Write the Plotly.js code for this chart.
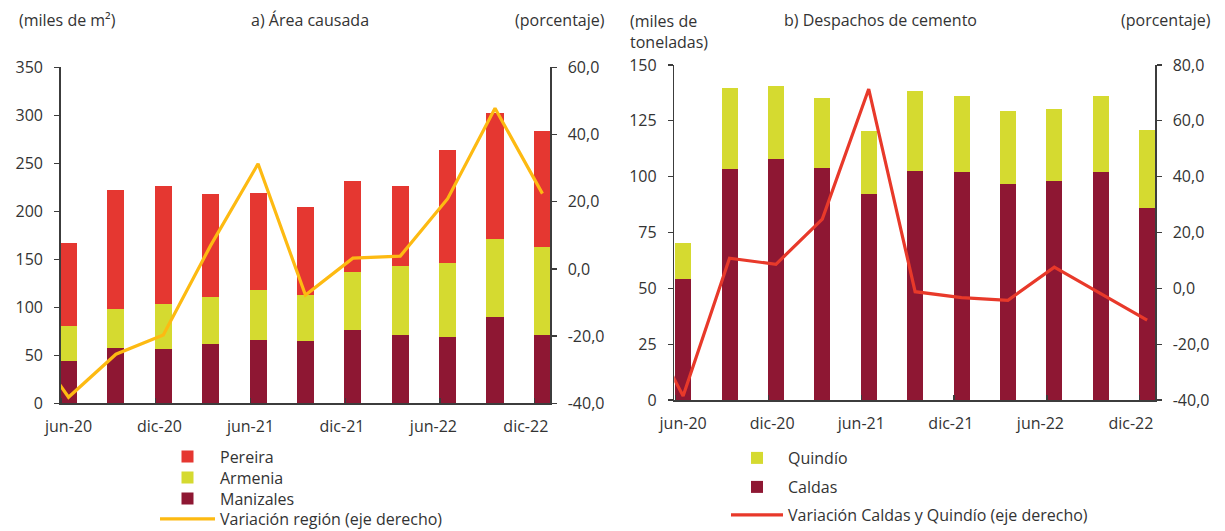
<!DOCTYPE html>
<html><head><meta charset="utf-8">
<script src="https://cdn.plot.ly/plotly-3.0.1.min.js"></script>
<style>html,body{margin:0;padding:0;background:#fff}#chart{width:1225px;height:531px}</style>
</head><body><div id="chart"></div>
<script>
// ---------- data ----------
const periods = ['jun-20','sep-20','dic-20','mar-21','jun-21','sep-21','dic-21','mar-22','jun-22','sep-22','dic-22'];
const linePeriods = ['mar-20','jun-20','sep-20','dic-20','mar-21','jun-21','sep-21','dic-21','mar-22','jun-22','sep-22','dic-22'];
const tickLabels = ['jun-20','dic-20','jun-21','dic-21','jun-22','dic-22'];
const rightTickVals1 = [-40, -20, 0, 20, 40, 60];
const rightTickText1 = ['-40,0','-20,0','0,0','20,0','40,0','60,0'];
const rightTickVals2 = [-40, -20, 0, 20, 40, 60, 80];
const rightTickText2 = ['-40,0','-20,0','0,0','20,0','40,0','60,0','80,0'];

// a) Área causada (miles de m²)
const pereira   = [86.8, 124.0, 122.9, 106.7, 101.4, 92.0, 94.4, 82.7, 118.1, 131.3, 120.5];
const armenia   = [36.1, 40.0, 46.9, 49.2, 52.1, 48.2, 60.4, 72.1, 77.0, 81.2, 91.9];
const manizales = [44.4, 57.9, 56.2, 61.8, 65.9, 64.6, 76.4, 71.2, 68.8, 89.9, 71.2];
const variacionRegion = [-18.0, -38.2, -25.4, -19.7, 7.0, 31.3, -7.8, 3.2, 3.8, 20.9, 47.8, 22.4];

// b) Despachos de cemento (miles de toneladas)
const quindio = [16.1, 36.6, 32.8, 31.5, 28.3, 35.7, 34.0, 32.7, 32.3, 34.0, 35.1];
const caldas  = [54.3, 103.3, 107.8, 103.7, 92.2, 102.5, 102.0, 96.9, 97.9, 102.0, 85.8];
const variacionCQ = [-6.8, -38.6, 10.8, 8.6, 24.8, 71.4, -1.2, -3.3, -4.3, 7.6, -1.9, -11.4];

// ---------- positions (index scale) ----------
const xBars = periods.map((p, i) => i);
const xLine = linePeriods.map((p, i) => i - 1);
const tickMarkPos = [-0.16, 1.84, 3.84, 5.84, 7.84, 9.84];
const labelPos = [0, 1.92, 3.84, 5.77, 7.7, 9.65];

// ---------- styles ----------
const C_PEREIRA = '#E53731', C_ARMENIA = '#D5DA30', C_MANIZALES = '#8E1733';
const C_LINE_A = '#FDBA12', C_LINE_B = '#E8392A';
const AX = '#3c3c3c';
const FONT = {family: '"Open Sans", sans-serif', size: 16, color: '#333'};

const traces = [
  {type:'bar', name:'Manizales', x:xBars, y:manizales, xaxis:'x', yaxis:'y', width:0.36,
   marker:{color:C_MANIZALES}, legend:'legend3', hoverinfo:'skip'},
  {type:'bar', name:'Armenia', x:xBars, y:armenia, xaxis:'x', yaxis:'y', width:0.36,
   marker:{color:C_ARMENIA}, legend:'legend2', hoverinfo:'skip'},
  {type:'bar', name:'Pereira', x:xBars, y:pereira, xaxis:'x', yaxis:'y', width:0.36,
   marker:{color:C_PEREIRA}, legend:'legend', hoverinfo:'skip'},
  {type:'scatter', mode:'lines', name:'Variación región (eje derecho)', x:xLine, y:variacionRegion,
   xaxis:'x', yaxis:'y2', line:{color:C_LINE_A, width:3.2}, legend:'legend4', hoverinfo:'skip'},

  {type:'bar', name:'Caldas', x:xBars, y:caldas, xaxis:'x2', yaxis:'y3', width:0.345,
   marker:{color:C_MANIZALES}, legend:'legend6', hoverinfo:'skip'},
  {type:'bar', name:'Quindío', x:xBars, y:quindio, xaxis:'x2', yaxis:'y3', width:0.345,
   marker:{color:C_ARMENIA}, legend:'legend5', hoverinfo:'skip'},
  {type:'scatter', mode:'lines', name:'Variación Caldas y Quindío (eje derecho)', x:xLine, y:variacionCQ,
   xaxis:'x2', yaxis:'y4', line:{color:C_LINE_B, width:3.2}, legend:'legend7', hoverinfo:'skip'}
];

const W = 1225, H = 531;
const px = v => v / W, py = v => 1 - v / H;

const xAxis = (dom, rng, anchor) => ({
  domain: dom, range: rng, anchor: anchor, tickmode:'array', tickvals: labelPos, ticktext: tickLabels,
  ticks:'', ticklabelstandoff: 8, tickfont: FONT,
  minor: {tickmode:'array', tickvals: tickMarkPos, ticks:'inside', ticklen:5, tickwidth:1.3, tickcolor:AX, showgrid:false},
  showline:true, linecolor:AX, linewidth:1.5, showgrid:false, zeroline:false, fixedrange:true
});
const yLeft = (dom, rng, dtick, anchor) => ({
  domain: dom, range: rng, dtick: dtick, tick0: 0, anchor: anchor, ticks:'outside', ticklen:5, tickwidth:1.3,
  tickcolor:AX, showline:true, linecolor:AX, linewidth:1.5, showgrid:false, zeroline:false,
  ticklabelstandoff: 8, fixedrange:true, tickfont: FONT
});
const yRight = (over, rng, vals, text, anchor) => ({
  overlaying: over, side:'right', range: rng, anchor: anchor, tickmode:'array', tickvals: vals, ticktext: text,
  ticks:'outside', ticklen:5, tickwidth:1.3, tickcolor:AX, showline:true, linecolor:AX, linewidth:1.5,
  showgrid:false, zeroline:false, ticklabelstandoff: 8, fixedrange:true, tickfont: FONT
});
const leg = (x, yc, iw) => ({x: px(x), xanchor:'left', y: py(yc), yanchor:'middle',
  bgcolor:'rgba(0,0,0,0)', font: FONT, itemwidth: iw});

const rangeA = [-0.165, 10.16], rangeB = [-0.19, 10.17];
const layout = {
  width: W, height: H, margin:{l:0, r:0, t:0, b:0, autoexpand:false},
  paper_bgcolor:'#fff', plot_bgcolor:'rgba(0,0,0,0)', font: FONT, separators: ',.',
  barmode:'stack', showlegend:true, hovermode:false,
  xaxis: xAxis([px(60.7), px(550)], rangeA, 'y'),
  yaxis: yLeft([py(403.3), py(67.3)], [0, 350], 50, 'x'),
  yaxis2: yRight('y', [-40, 60], rightTickVals1, rightTickText1, 'x'),
  xaxis2: xAxis([px(674.3), px(1155)], rangeB, 'y3'),
  yaxis3: yLeft([py(400), py(65)], [0, 150], 25, 'x2'),
  yaxis4: yRight('y3', [-40, 80], rightTickVals2, rightTickText2, 'x2'),
  legend:  leg(155, 456.5, 55),
  legend2: leg(155, 477.5, 55),
  legend3: leg(155, 498.5, 55),
  legend4: leg(155, 519, 55),
  legend5: leg(726, 458, 52),
  legend6: leg(726, 487, 52),
  legend7: leg(726, 515, 52),
  annotations: [
    {text:'(miles de m²)', xref:'paper', yref:'paper', x: px(17), y: py(20), xanchor:'left', yanchor:'middle', showarrow:false, font: FONT},
    {text:'a) Área causada', xref:'paper', yref:'paper', x: px(310), y: py(20), xanchor:'center', yanchor:'middle', showarrow:false, font: FONT},
    {text:'(porcentaje)', xref:'paper', yref:'paper', x: px(607), y: py(20), xanchor:'right', yanchor:'middle', showarrow:false, font: FONT},
    {text:'(miles de<br>toneladas)', xref:'paper', yref:'paper', x: px(628), y: py(8), xanchor:'left', yanchor:'top', align:'left', showarrow:false, font: FONT},
    {text:'b) Despachos de cemento', xref:'paper', yref:'paper', x: px(880), y: py(20), xanchor:'center', yanchor:'middle', showarrow:false, font: FONT},
    {text:'(porcentaje)', xref:'paper', yref:'paper', x: px(1213), y: py(20), xanchor:'right', yanchor:'middle', showarrow:false, font: FONT}
  ]
};

Plotly.newPlot('chart', traces, layout, {displayModeBar:false, staticPlot:true});
</script>
</body></html>
